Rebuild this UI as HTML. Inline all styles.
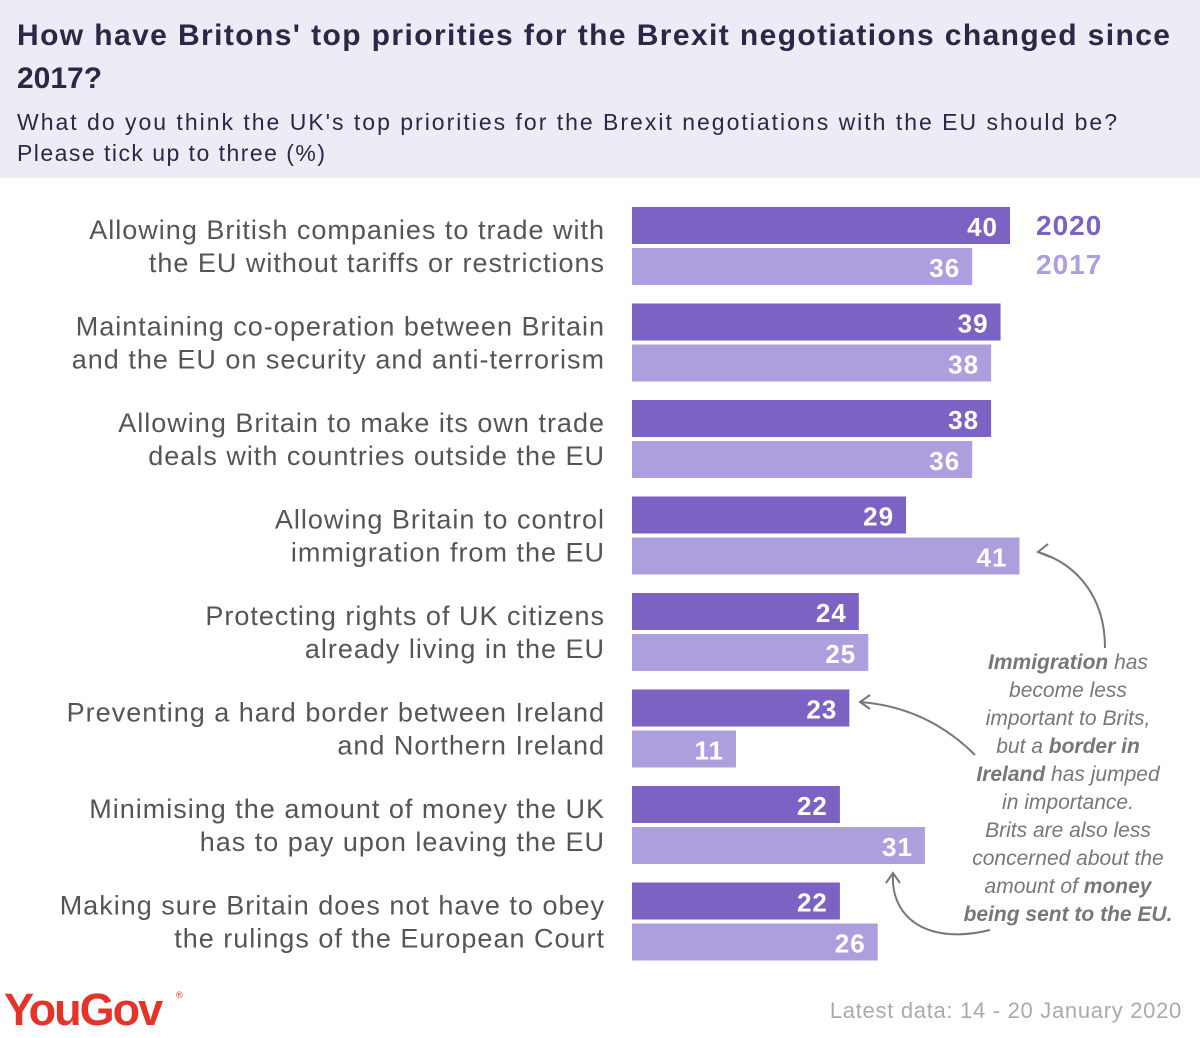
<!DOCTYPE html>
<html><head><meta charset="utf-8"><style>
body{margin:0;width:1200px;height:1033px;overflow:hidden;background:#fff;font-family:"Liberation Sans",sans-serif}
</style></head><body>
<svg width="1200" height="1033" xmlns="http://www.w3.org/2000/svg">
<rect x="0" y="0" width="1200" height="178" fill="#eeebf6"/>
<text x="17" y="45" font-size="30" font-weight="bold" fill="#2d2646" textLength="1153" lengthAdjust="spacing">How have Britons' top priorities for the Brexit negotiations changed since</text>
<text x="17" y="88" font-size="30" font-weight="bold" fill="#2d2646">2017?</text>
<text x="17" y="130" font-size="23" fill="#2d2646" textLength="1100" lengthAdjust="spacing">What do you think the UK's top priorities for the Brexit negotiations with the EU should be?</text>
<text x="17" y="161" font-size="23" fill="#2d2646" textLength="308" lengthAdjust="spacing">Please tick up to three (%)</text>
<g id="bars"></g>
<text x="1036" y="235" font-size="28" font-weight="bold" fill="#7b62c3" letter-spacing="1">2020</text>
<text x="1036" y="274" font-size="28" font-weight="bold" fill="#ad9fdd" letter-spacing="1">2017</text>
<g font-size="21" font-style="italic" fill="#777" text-anchor="middle">
<text x="1068" y="669"><tspan font-weight="bold">Immigration</tspan> has</text>
<text x="1068" y="697">become less</text>
<text x="1068" y="725">important to Brits,</text>
<text x="1068" y="753">but a <tspan font-weight="bold">border in</tspan></text>
<text x="1068" y="781"><tspan font-weight="bold">Ireland</tspan> has jumped</text>
<text x="1068" y="809">in importance.</text>
<text x="1068" y="837">Brits are also less</text>
<text x="1068" y="865">concerned about the</text>
<text x="1068" y="893">amount of <tspan font-weight="bold">money</tspan></text>
<text x="1068" y="921"><tspan font-weight="bold">being sent to the EU.</tspan></text>
</g>
<g fill="none" stroke="#777" stroke-width="2">
<path d="M1105,648 C1105,600 1080,565 1038,552"/><path d="M1048,544 L1038,552 L1050,557"/>
<path d="M975,755 C940,720 900,705 860,702"/><path d="M870,695 L860,702 L870,709"/>
<path d="M990,930 C930,945 890,920 893,873"/><path d="M886,883 L893,873 L900,883"/>
</g>
<text x="4" y="1025" font-size="45" font-weight="bold" fill="#e5332a" letter-spacing="-2">YouGov</text>
<text x="176" y="998" font-size="9" fill="#e5332a">®</text>
<text x="1182" y="1018" font-size="22" fill="#aaa" text-anchor="end" letter-spacing="0.7">Latest data: 14 - 20 January 2020</text>
</svg>
<script>
const categories=[["Allowing British companies to trade with","the EU without tariffs or restrictions"],["Maintaining co-operation between Britain","and the EU on security and anti-terrorism"],["Allowing Britain to make its own trade","deals with countries outside the EU"],["Allowing Britain to control","immigration from the EU"],["Protecting rights of UK citizens","already living in the EU"],["Preventing a hard border between Ireland","and Northern Ireland"],["Minimising the amount of money the UK","has to pay upon leaving the EU"],["Making sure Britain does not have to obey","the rulings of the European Court"]];
const values2020=[40,39,38,29,24,23,22,22];
const values2017=[36,38,36,41,25,11,31,26];
const NS="http://www.w3.org/2000/svg";
const g=document.getElementById('bars');
const x0=632,scale=9.45,y0=207,step=96.5,bh=37;
function xw(v){return v*scale;}
function mk(tag,attrs){const e=document.createElementNS(NS,tag);for(const k in attrs)e.setAttribute(k,attrs[k]);g.appendChild(e);return e;}
categories.forEach((c,i)=>{
  const y=y0+i*step;
  [[values2020[i],'#7b62c3',y,'2020'],[values2017[i],'#ad9fdd',y+41,'2017']].forEach(([v,col,yy,s])=>{
    const r=mk('rect',{x:x0,y:yy,width:xw(v),height:bh,fill:col});
    
    
    const t=mk('text',{x:x0+xw(v)-12,y:yy+29,'font-size':26,'font-weight':'bold',fill:'#fff','text-anchor':'end','letter-spacing':1});
    t.textContent=v;
    
    
  });
  c.forEach((line,j)=>{
    const t=mk('text',{x:605,y:y+32+j*33,'font-size':27,fill:'#555','text-anchor':'end','letter-spacing':1});
    t.textContent=line;
    
    
  });
});
</script>
</body></html>
